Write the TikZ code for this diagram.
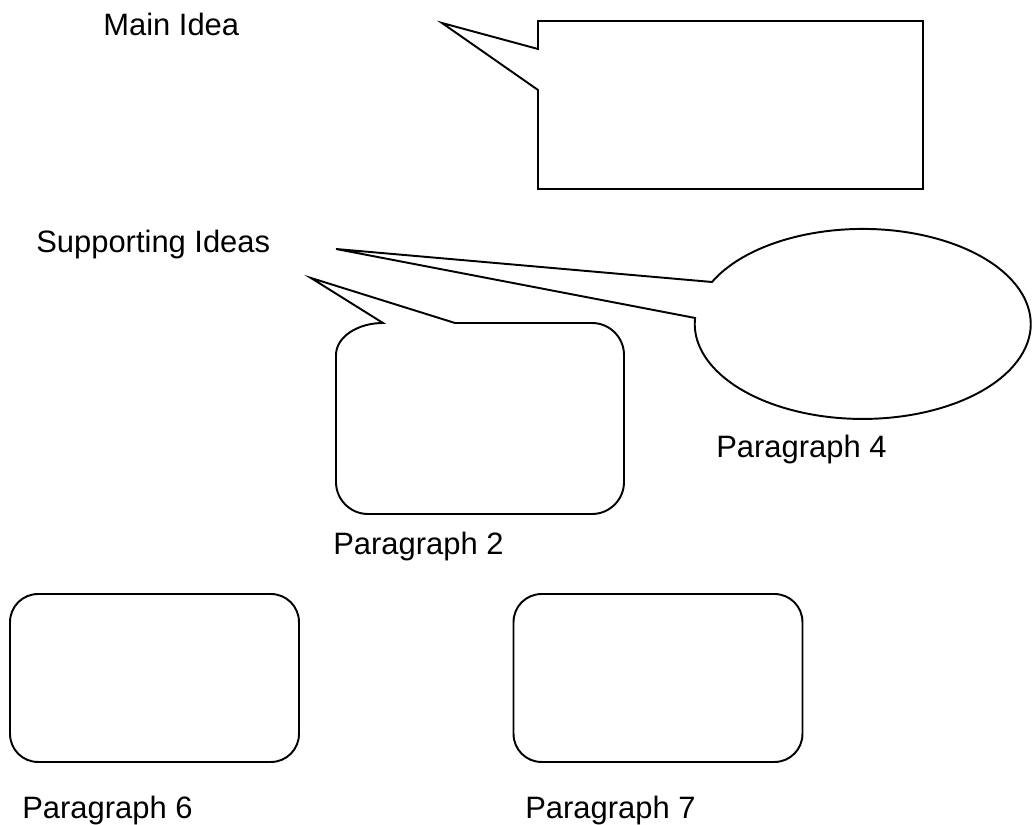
\documentclass[tikz,border=0pt]{standalone}
\usepackage{fontspec}
\setmainfont{Liberation Sans}
\usetikzlibrary{positioning}

\begin{document}
\begin{tikzpicture}[
        x=0.02cm, y=0.02cm,
        outlineShape/.style={
            draw=black,
            line width=1.1pt,
            line join=miter
        },
        paraBox/.style={
            outlineShape,
            rounded corners=0.56cm,
            minimum width=5.78cm,
            minimum height=3.36cm,
            inner sep=0pt
        },
        labelText/.style={
            font=\fontsize{17.6}{21}\selectfont,
            inner sep=0pt,
            anchor=base west
        }
    ]

        \useasboundingbox (0,0) rectangle (1032,825);

        % Headings
        \node[labelText] (mainIdea) at (103,789) {Main Idea};
        \node[labelText] (supportIdeas) at (36,572) {Supporting Ideas};

        % Main idea callout
        \coordinate (mainTip) at (442,802);
        \draw[outlineShape]
            (mainTip) -- (538,776) -- (538,804) -- (923,804)
            -- (923,636) -- (538,636) -- (538,735) -- cycle;

        % Oval callout
        \coordinate (ovalTip) at (336,576);
        \draw[outlineShape]
            (ovalTip) -- (712,543)
            arc[start angle=153.8, end angle=-183.6, x radius=168, y radius=95]
            -- cycle;
        \node[labelText] (para4) at (716,367) {Paragraph 4};

        % Rounded callout
        \coordinate (roundTip) at (311,547);
        \draw[outlineShape]
            (455,502) -- (592,502)
            arc[start angle=90, end angle=0, radius=32] -- (624,343)
            arc[start angle=0, end angle=-90, radius=32] -- (368,311)
            arc[start angle=270, end angle=180, radius=32] -- (336,470)
            arc[start angle=180, end angle=90, x radius=47, y radius=32]
            -- (roundTip) -- cycle;
        \node[labelText] (para2) at (333,270) {Paragraph 2};

        % Bottom row
        \node[paraBox] (box6) at (154.5,147) {};
        \node[paraBox] (box7) at (658,147) {};
        \node[labelText] (para6) at (22,6) {Paragraph 6};
        \node[labelText] (para7) at (525,6) {Paragraph 7};

    \end{tikzpicture}
\end{document}
